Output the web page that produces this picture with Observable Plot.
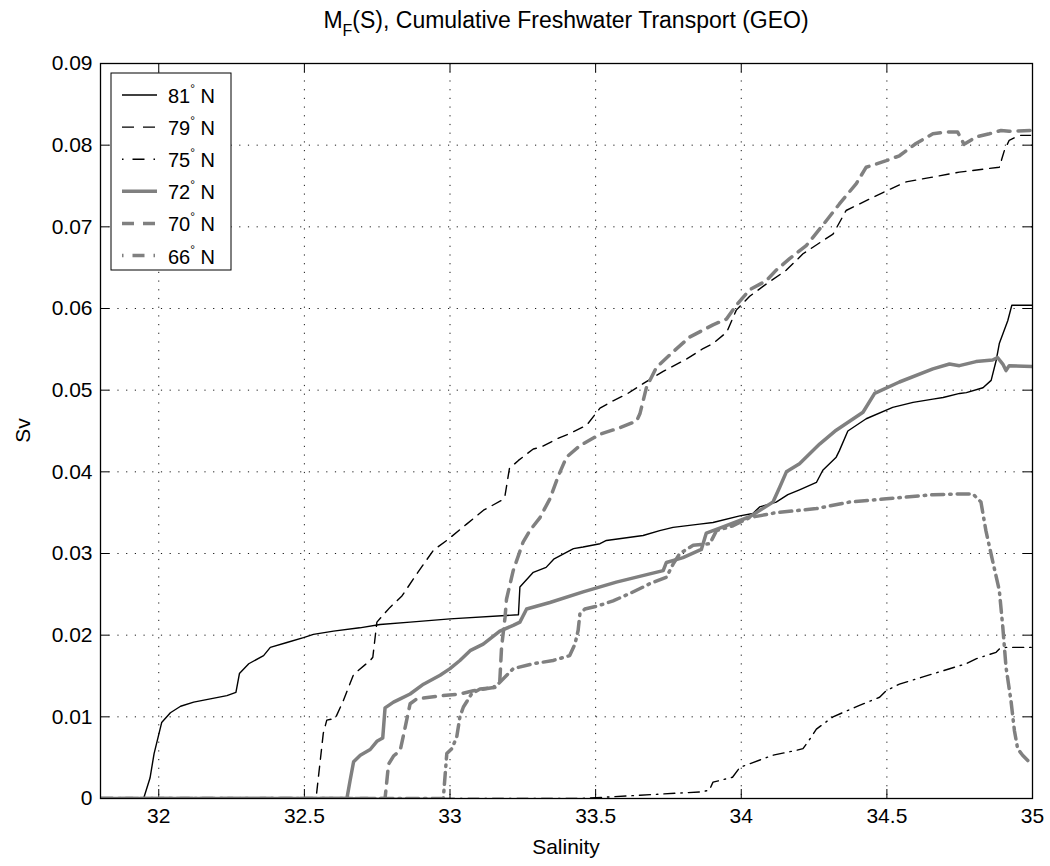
<!DOCTYPE html>
<html>
<head>
<meta charset="utf-8">
<script src="https://cdn.jsdelivr.net/npm/d3@7"></script>
<script src="https://cdn.jsdelivr.net/npm/@observablehq/plot@0.6"></script>
<style>
  html, body { margin: 0; padding: 0; background: #fff; }
  svg { display: block; }
</style>
</head>
<body>
<div id="chart"></div>
<script>
// ---------- data ----------
const s81 = [31.8, 31.948, 31.97, 31.984, 32.01, 32.04, 32.075, 32.12, 32.177, 32.234, 32.265, 32.277, 32.309, 32.36, 32.383, 32.44, 32.497, 32.531, 32.6, 32.69, 32.76, 32.863, 33.0, 33.235, 33.24, 33.286, 33.33, 33.356, 33.424, 33.457, 33.515, 33.537, 33.663, 33.72, 33.766, 33.857, 33.903, 33.995, 34.04, 34.063, 34.12, 34.16, 34.2, 34.258, 34.28, 34.326, 34.337, 34.366, 34.429, 34.52, 34.59, 34.658, 34.693, 34.75, 34.773, 34.83, 34.858, 34.875, 34.886, 34.915, 34.929, 35.0];
const v81 = [0, 0, 0.0025, 0.0055, 0.0093, 0.0105, 0.0113, 0.0118, 0.0122, 0.0126, 0.013, 0.0153, 0.0165, 0.0175, 0.0185, 0.0191, 0.0197, 0.0201, 0.0205, 0.0209, 0.0213, 0.0216, 0.022, 0.0225, 0.0259, 0.0277, 0.0283, 0.0293, 0.0306, 0.0308, 0.0312, 0.0316, 0.0322, 0.0328, 0.0332, 0.0336, 0.0338, 0.0346, 0.0349, 0.0357, 0.0363, 0.0372, 0.0378, 0.0387, 0.0402, 0.0418, 0.0426, 0.045, 0.0465, 0.0479, 0.0485, 0.0489, 0.0491, 0.0496, 0.0497, 0.0503, 0.0512, 0.0536, 0.0557, 0.0585, 0.0604, 0.0604];

const s79 = [31.8, 32.54, 32.565, 32.577, 32.606, 32.634, 32.668, 32.686, 32.726, 32.735, 32.749, 32.794, 32.835, 32.886, 32.943, 32.989, 33.057, 33.115, 33.177, 33.189, 33.204, 33.235, 33.286, 33.31, 33.377, 33.412, 33.469, 33.515, 33.56, 33.606, 33.663, 33.732, 33.812, 33.869, 33.903, 33.95, 33.983, 34.029, 34.086, 34.155, 34.212, 34.28, 34.315, 34.36, 34.406, 34.498, 34.566, 34.658, 34.749, 34.84, 34.886, 34.903, 34.92, 34.955, 35.0];
const v79 = [0, 0, 0.008, 0.0096, 0.0098, 0.012, 0.0151, 0.0157, 0.0169, 0.0173, 0.0216, 0.0234, 0.0248, 0.0275, 0.0304, 0.0316, 0.0336, 0.0353, 0.0365, 0.0371, 0.0404, 0.0414, 0.0428, 0.043, 0.0442, 0.0447, 0.0457, 0.0478, 0.0487, 0.0495, 0.0508, 0.0523, 0.0538, 0.0551, 0.0557, 0.0571, 0.0598, 0.0615, 0.063, 0.0647, 0.0667, 0.0683, 0.0691, 0.072, 0.0728, 0.0744, 0.0755, 0.0761, 0.0767, 0.0771, 0.0773, 0.0793, 0.0806, 0.0812, 0.0812];

const s75 = [31.8, 33.45, 33.652, 33.857, 33.89, 33.903, 33.97, 33.995, 34.04, 34.109, 34.189, 34.212, 34.24, 34.258, 34.315, 34.406, 34.475, 34.498, 34.543, 34.68, 34.772, 34.806, 34.875, 34.886, 34.909, 35.0];
const v75 = [0, 0, 0.0004, 0.0008, 0.001, 0.002, 0.0026, 0.0038, 0.0044, 0.0053, 0.0059, 0.0061, 0.0075, 0.0085, 0.01, 0.0114, 0.0124, 0.0132, 0.014, 0.0155, 0.0165, 0.0171, 0.0179, 0.0183, 0.0185, 0.0185];

const s72 = [31.8, 32.646, 32.657, 32.669, 32.692, 32.726, 32.749, 32.769, 32.777, 32.806, 32.829, 32.863, 32.909, 32.966, 33.0, 33.034, 33.069, 33.114, 33.171, 33.217, 33.24, 33.263, 33.343, 33.457, 33.571, 33.686, 33.732, 33.743, 33.8, 33.863, 33.88, 33.926, 34.029, 34.109, 34.132, 34.155, 34.2, 34.269, 34.326, 34.418, 34.458, 34.543, 34.658, 34.715, 34.749, 34.806, 34.863, 34.88, 34.898, 34.909, 34.92, 35.0];
const v72 = [0, 0, 0.0022, 0.0045, 0.0053, 0.006, 0.007, 0.0074, 0.0111, 0.0118, 0.0122, 0.0128, 0.014, 0.0151, 0.0159, 0.0169, 0.0181, 0.0189, 0.0205, 0.0212, 0.0216, 0.0232, 0.024, 0.0253, 0.0265, 0.0275, 0.0279, 0.0289, 0.0295, 0.0305, 0.0325, 0.0331, 0.0345, 0.0363, 0.0381, 0.04, 0.041, 0.0434, 0.0451, 0.0473, 0.0496, 0.051, 0.0526, 0.0532, 0.053, 0.0535, 0.0537, 0.054, 0.0532, 0.0524, 0.053, 0.0529];

const s70 = [31.8, 32.777, 32.789, 32.806, 32.829, 32.846, 32.863, 32.886, 32.977, 33.034, 33.08, 33.149, 33.171, 33.177, 33.189, 33.194, 33.217, 33.251, 33.274, 33.309, 33.343, 33.372, 33.4, 33.446, 33.515, 33.583, 33.64, 33.652, 33.675, 33.709, 33.766, 33.823, 33.903, 33.949, 33.983, 34.029, 34.086, 34.12, 34.166, 34.223, 34.28, 34.337, 34.395, 34.429, 34.498, 34.543, 34.6, 34.658, 34.704, 34.743, 34.765, 34.806, 34.852, 34.892, 34.92, 35.0];
const v70 = [0, 0, 0.0042, 0.0052, 0.0059, 0.0087, 0.0116, 0.0122, 0.0126, 0.0128, 0.0132, 0.0136, 0.0144, 0.0185, 0.0222, 0.0244, 0.0279, 0.0314, 0.0328, 0.0344, 0.0367, 0.0395, 0.0418, 0.0432, 0.0446, 0.0454, 0.0462, 0.0471, 0.0504, 0.0528, 0.0547, 0.0565, 0.058, 0.0587, 0.0604, 0.0623, 0.0634, 0.0647, 0.0661, 0.0677, 0.0702, 0.0728, 0.0753, 0.0773, 0.0781, 0.0787, 0.0802, 0.0814, 0.0816, 0.0816, 0.0801, 0.081, 0.0814, 0.0818, 0.0817, 0.0818];

const s66 = [31.8, 32.977, 32.989, 33.006, 33.023, 33.034, 33.046, 33.074, 33.103, 33.154, 33.217, 33.286, 33.354, 33.411, 33.429, 33.44, 33.446, 33.463, 33.509, 33.56, 33.617, 33.686, 33.743, 33.766, 33.789, 33.835, 33.892, 33.915, 33.972, 34.029, 34.12, 34.258, 34.372, 34.498, 34.658, 34.76, 34.795, 34.823, 34.84, 34.863, 34.886, 34.898, 34.909, 34.926, 34.938, 34.949, 34.966, 34.985];
const v66 = [0, 0, 0.0055, 0.0061, 0.0075, 0.01, 0.0112, 0.0128, 0.0134, 0.0136, 0.0159, 0.0165, 0.0169, 0.0175, 0.0189, 0.0206, 0.0226, 0.0232, 0.0236, 0.0242, 0.0251, 0.0263, 0.0271, 0.0287, 0.03, 0.031, 0.0312, 0.0328, 0.0334, 0.0344, 0.035, 0.0355, 0.0363, 0.0367, 0.0372, 0.0373, 0.0373, 0.0363, 0.0328, 0.0291, 0.0255, 0.021, 0.0161, 0.012, 0.0083, 0.0061, 0.0053, 0.0046];

const seriesNames = ["81", "79", "75", "72", "70", "66"];
const xTicks = [32, 32.5, 33, 33.5, 34, 34.5, 35];
const xTickLabels = ["32", "32.5", "33", "33.5", "34", "34.5", "35"];
const yTicks = [0, 0.01, 0.02, 0.03, 0.04, 0.05, 0.06, 0.07, 0.08, 0.09];
const yTickLabels = ["0", "0.01", "0.02", "0.03", "0.04", "0.05", "0.06", "0.07", "0.08", "0.09"];
const titleMain = "M", titleSub = "F", titleRest = "(S), Cumulative Freshwater Transport (GEO)";
const xLabel = "Salinity", yLabel = "Sv";

// ---------- styles ----------
const GRAY = "#808080";
const styles = {
  "81": {stroke: "black", strokeWidth: 1.4, dash: null},
  "79": {stroke: "black", strokeWidth: 1.4, dash: "10,7"},
  "75": {stroke: "black", strokeWidth: 1.4, dash: "11,6,1.5,6"},
  "72": {stroke: GRAY, strokeWidth: 3.5, dash: null},
  "70": {stroke: GRAY, strokeWidth: 3.5, dash: "12,8"},
  "66": {stroke: GRAY, strokeWidth: 3.5, dash: "12,6,1.5,6"}
};

const seriesData = {
  "81": d3.zip(s81, v81), "79": d3.zip(s79, v79), "75": d3.zip(s75, v75),
  "72": d3.zip(s72, v72), "70": d3.zip(s70, v70), "66": d3.zip(s66, v66)
};

// ---------- layout ----------
const W = 1050, H = 866;
const mL = 100, mR = 18, mT = 63, mB = 68;
const pW = W - mL - mR, pH = H - mT - mB;
const FONT = "'Liberation Sans', Arial, Helvetica, sans-serif";
const TICK = 9;

const lineMarks = seriesNames.map(k => {
  const st = styles[k];
  const o = {x: d => d[0], y: d => d[1], stroke: st.stroke, strokeWidth: st.strokeWidth, clip: true, strokeLinejoin: "round"};
  if (st.dash) o.strokeDasharray = st.dash;
  return Plot.line(seriesData[k], o);
});

const plot = Plot.plot({
  width: W, height: H,
  marginLeft: mL, marginRight: mR, marginTop: mT, marginBottom: mB,
  style: {fontFamily: FONT, fontSize: "21px", color: "black", background: "white", overflow: "visible"},
  x: {domain: [31.8, 35]},
  y: {domain: [0, 0.09]},
  marks: [
    Plot.gridX(xTicks.slice(0, -1), {stroke: "black", strokeOpacity: 0.9, strokeWidth: 1, strokeDasharray: "1.2,7.5"}),
    Plot.gridY(yTicks.slice(1, -1), {stroke: "black", strokeOpacity: 0.9, strokeWidth: 1, strokeDasharray: "1.2,7.5"}),
    Plot.ruleX(xTicks, {stroke: "black", strokeWidth: 1, insetTop: pH - TICK}),
    Plot.ruleX(xTicks, {stroke: "black", strokeWidth: 1, insetBottom: pH - TICK}),
    Plot.ruleY(yTicks, {stroke: "black", strokeWidth: 1, insetRight: pW - TICK}),
    Plot.ruleY(yTicks, {stroke: "black", strokeWidth: 1, insetLeft: pW - TICK}),
    ...lineMarks,
    Plot.frame({stroke: "black", strokeWidth: 1.3}),
    Plot.axisX(xTicks, {tickSize: 0, tickPadding: 10, label: null, tickFormat: (d) => xTickLabels[xTicks.indexOf(d)], fontSize: 21}),
    Plot.axisY(yTicks, {tickSize: 0, tickPadding: 8, label: null, tickFormat: (d) => yTickLabels[yTicks.indexOf(d)], fontSize: 21})
  ]
});

document.getElementById("chart").appendChild(plot);

// ---------- title, axis labels and legend ----------
const svg = d3.select(plot);
const cx = mL + pW / 2;

const t = svg.append("text")
  .attr("x", cx).attr("y", 28)
  .attr("text-anchor", "middle")
  .attr("font-family", FONT).attr("font-size", 23).attr("fill", "black");
t.append("tspan").text(titleMain);
t.append("tspan").attr("dy", 8).attr("font-size", 16).text(titleSub);
t.append("tspan").attr("dy", -8).text(titleRest);

svg.append("text")
  .attr("x", cx).attr("y", 854)
  .attr("text-anchor", "middle")
  .attr("font-family", FONT).attr("font-size", 21).attr("fill", "black")
  .text(xLabel);

svg.append("text")
  .attr("transform", `translate(30, ${mT + pH / 2}) rotate(-90)`)
  .attr("text-anchor", "middle")
  .attr("font-family", FONT).attr("font-size", 21).attr("fill", "black")
  .text(yLabel);

// legend
const lg = svg.append("g").attr("text-anchor", "start");
lg.append("rect")
  .attr("x", 111).attr("y", 73).attr("width", 120).attr("height", 197)
  .attr("fill", "white").attr("stroke", "black").attr("stroke-width", 1);
seriesNames.forEach((k, i) => {
  const st = styles[k];
  const yy = 95 + i * 32.1;
  const ln = lg.append("line")
    .attr("x1", 122).attr("x2", 157).attr("y1", yy).attr("y2", yy)
    .attr("stroke", st.stroke).attr("stroke-width", st.strokeWidth);
  if (st.dash) ln.attr("stroke-dasharray", k === "75" || k === "66" ? "1.5,9,12,9" : "12,9");
  const tx = lg.append("text")
    .attr("x", 168).attr("y", yy + 8)
    .attr("text-anchor", "start")
    .attr("font-family", FONT).attr("font-size", 20).attr("fill", "black");
  tx.append("tspan").text(k);
  tx.append("tspan").attr("dy", -10).attr("font-size", 12).text("°");
  tx.append("tspan").attr("dy", 10).text(" N");
});
</script>
</body>
</html>
